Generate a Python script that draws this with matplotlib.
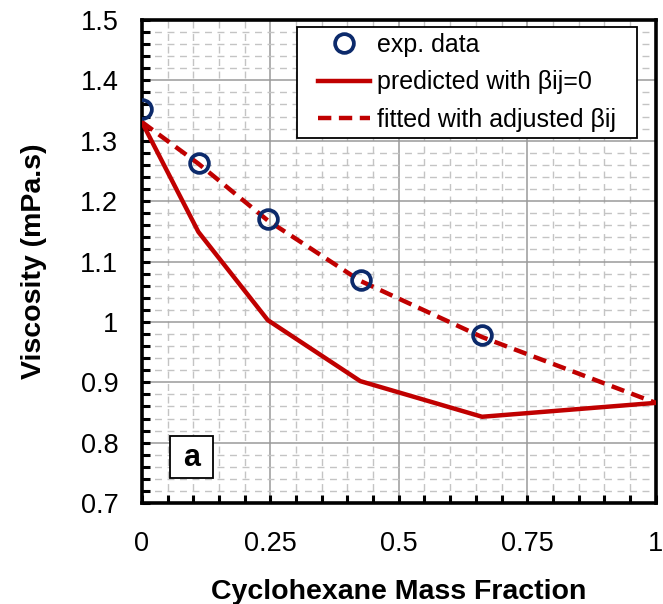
import matplotlib.pyplot as plt
from matplotlib.lines import Line2D
from matplotlib.legend_handler import HandlerLine2D
from matplotlib.patches import Rectangle
from matplotlib.ticker import MultipleLocator

plt.rcParams['font.family'] = ['Liberation Sans', 'DejaVu Sans']

# experimental viscosities
x_exp = [0.0, 0.111, 0.245, 0.426, 0.661]
visc_exp = [1.353, 1.263, 1.171, 1.070, 0.979]

# model curves
x_model = [0.0, 0.11, 0.245, 0.425, 0.662, 1.0]
visc_pred = [1.331, 1.149, 1.003, 0.902, 0.843, 0.866]
visc_fit = [1.331, 1.262, 1.168, 1.068, 0.975, 0.866]

red = '#C00000'
navy = '#0C2A6B'

fig = plt.figure(figsize=(6.63, 6.04), dpi=100)
ax = fig.add_axes([0.214, 0.167, 0.775, 0.80])

ax.plot(x_exp, visc_exp, 'o', ms=13.5, mfc='none', mec=navy, mew=2.7,
        label='exp. data', zorder=5)
ax.plot(x_model, visc_pred, '-', color=red, lw=3.2,
        label='predicted with βij=0', zorder=4)
ax.plot(x_model, visc_fit, '--', color=red, lw=3.2, dashes=(3.0, 1.7),
        label='fitted with adjusted βij', zorder=4)

ax.set_xlim(0, 1)
ax.set_ylim(0.7, 1.5)
ax.xaxis.set_minor_locator(MultipleLocator(0.05))
ax.yaxis.set_minor_locator(MultipleLocator(0.02))
ax.set_xticks([0, 0.25, 0.5, 0.75, 1])
ax.set_xticklabels(['0', '0.25', '0.5', '0.75', '1'])
ax.set_yticks([0.7, 0.8, 0.9, 1.0, 1.1, 1.2, 1.3, 1.4, 1.5])
ax.set_yticklabels(['0.7', '0.8', '0.9', '1', '1.1', '1.2', '1.3', '1.4', '1.5'])

ax.grid(which='major', color='#9a9a9a', lw=1.1, ls='-')
ax.grid(which='minor', color='#c4c4c4', lw=1.0, ls=(0, (5, 4)))
ax.set_axisbelow(True)

for side in ['left', 'bottom', 'top', 'right']:
    ax.spines[side].set_linewidth(2.6)
    ax.spines[side].set_color('black')

ax.tick_params(which='both', direction='in', width=2.2, length=6,
               top=False, right=False, colors='black')
ax.tick_params(axis='y', labelsize=19.5, pad=17)
ax.tick_params(axis='x', labelsize=19.5, pad=20)

ax.set_xlabel('Cyclohexane Mass Fraction', fontsize=20.5, fontweight='bold',
              labelpad=16)
ax.set_ylabel('Viscosity (mPa.s)', fontsize=20.5, fontweight='bold',
              labelpad=24)

leg = ax.legend(loc='upper left', bbox_to_anchor=(0.3016, 0.5, 0.6615, 0.4855),
                mode='expand', fontsize=18, frameon=True, fancybox=False,
                framealpha=1, edgecolor='black', handlelength=2.68,
                handletextpad=0.28, borderpad=0.24, labelspacing=0.54,
                borderaxespad=0, handler_map={Line2D: HandlerLine2D(xpad=0.6)})
leg.get_frame().set_linewidth(1.3)

# panel tag
ax.add_patch(Rectangle((0.0545, 0.052), 0.0835, 0.087, transform=ax.transAxes,
                       fc='white', ec='black', lw=1.3, zorder=6))
ax.text(0.096, 0.094, 'a', transform=ax.transAxes, fontsize=22,
        fontweight='bold', ha='center', va='center', zorder=7)

plt.savefig('out.png', dpi=100)
